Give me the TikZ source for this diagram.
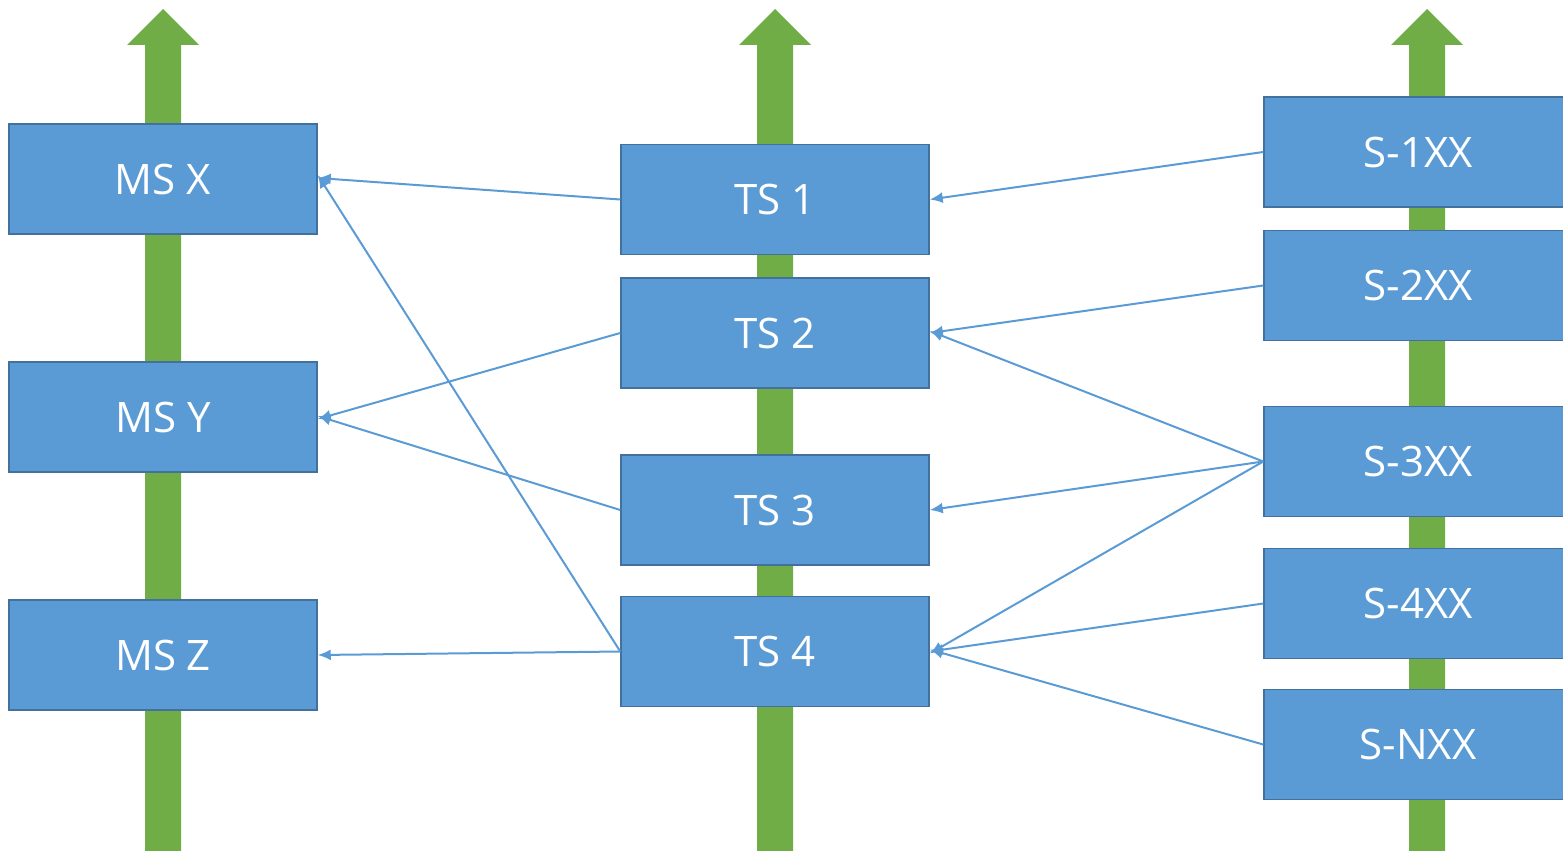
\documentclass[tikz,border=0pt]{standalone}
\usepackage{fontspec}
\setmainfont{Open Sans}
\usetikzlibrary{arrows.meta}
\definecolor{boxblue}{HTML}{5B9BD5}
\definecolor{boxedge}{HTML}{41719C}
\definecolor{flowgreen}{HTML}{70AD47}
\tikzset{
  sbox/.style={draw=boxedge, fill=boxblue, line width=1.5pt, minimum width=308pt, minimum height=110pt, inner sep=0pt, text=white, font=\fontsize{42}{50}\selectfont},
  rbox/.style={sbox, minimum width=340pt},
  link/.style={draw=boxblue, line width=2pt, -{Latex[length=13pt,width=11pt]}},
}
\newcommand{\greenarrow}[1]{%
  \fill[flowgreen] (#1-18,853) -- (#1-18,45) -- (#1-36,45) -- (#1,9) -- (#1+36,45) -- (#1+18,45) -- (#1+18,853) -- cycle;}
\newcommand{\rtext}[1]{\hspace*{-32pt}#1}
\begin{document}
\begin{tikzpicture}[x=1pt,y=-1pt]
\useasboundingbox (0,0) rectangle (1563,851);
\greenarrow{163}
\greenarrow{775}
\greenarrow{1427}
% left column
\node[sbox] (msx) at (163,179) {MS X};
\node[sbox] (msy) at (163,417) {MS Y};
\node[sbox] (msz) at (163,655) {MS Z};
% middle column
\node[sbox] (ts1) at (775,199.5) {TS 1};
\node[sbox] (ts2) at (775,333) {TS 2};
\node[sbox] (ts3) at (775,510) {TS 3};
\node[sbox] (ts4) at (775,651.5) {TS 4};
% right column (runs past the right edge)
\node[rbox] (s1) at (1434,152) {\rtext{S-1XX}};
\node[rbox] (s2) at (1434,285.5) {\rtext{S-2XX}};
\node[rbox] (s3) at (1434,461.5) {\rtext{S-3XX}};
\node[rbox] (s4) at (1434,603.5) {\rtext{S-4XX}};
\node[rbox] (sn) at (1434,744.5) {\rtext{S-NXX}};
% connectors
\draw[link] (ts1.west) -- ([yshift=1pt]msx.east);
\draw[link] (ts4.west) -- ([yshift=4pt]msx.east);
\draw[link] (ts2.west) -- ([yshift=-2pt]msy.east);
\draw[link] (ts3.west) -- ([yshift=1pt]msy.east);
\draw[link] (ts4.west) -- (msz.east);
\draw[link] (s1.west) -- (ts1.east);
\draw[link] (s2.west) -- (ts2.east);
\draw[link] (s3.west) -- ([yshift=2pt]ts2.east);
\draw[link] (s3.west) -- (ts3.east);
\draw[link] (s3.west) -- ([yshift=-2pt]ts4.east);
\draw[link] (s4.west) -- (ts4.east);
\draw[link] (sn.west) -- ([yshift=2pt]ts4.east);
\end{tikzpicture}
\end{document}
